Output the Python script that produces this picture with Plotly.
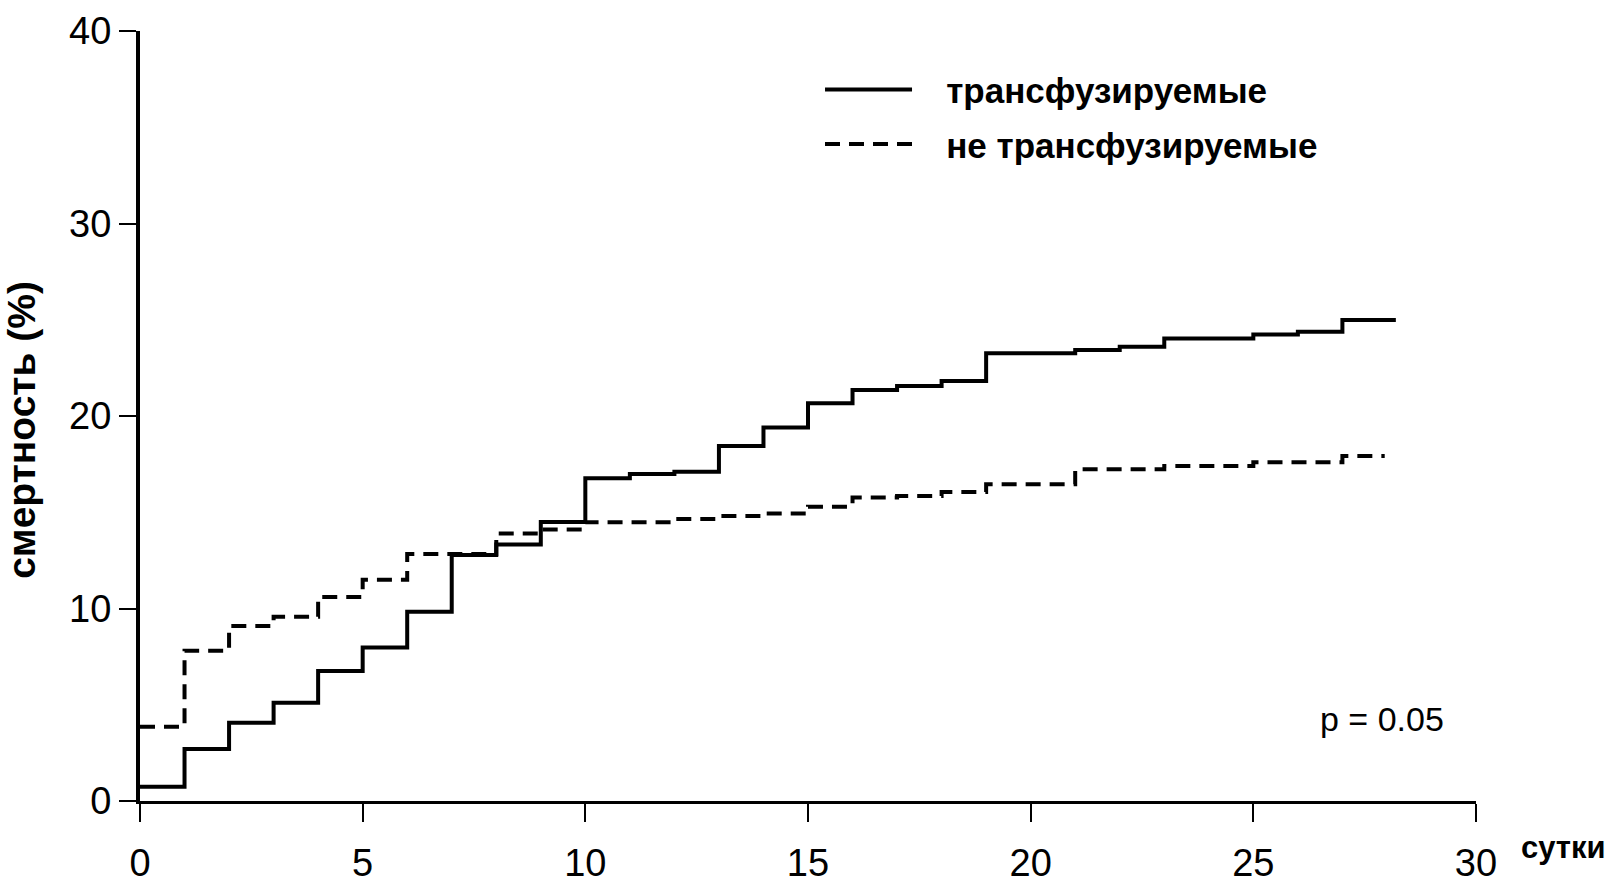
import plotly.graph_objects as go

# Kaplan-Meier style cumulative mortality (%) by day
days_transfused = [0, 1, 2, 3, 4, 5, 6, 7, 8, 9, 10, 11, 12, 13, 14, 15, 16, 17, 18, 19, 21, 22, 23, 25, 26, 27, 28.2]
mort_transfused = [0.74, 2.7, 4.07, 5.1, 6.75, 7.98, 9.83, 12.78, 13.33, 14.5, 16.76, 16.99, 17.1, 18.44, 19.4,
                   20.66, 21.35, 21.56, 21.82, 23.26, 23.43, 23.6, 24.03, 24.24, 24.38, 24.99, 24.99]

days_not_transfused = [0, 1, 2, 3, 4, 5, 6, 8, 9, 10, 12, 13, 14, 15, 16, 17, 18, 19, 21, 23, 25, 27, 27.95]
mort_not_transfused = [3.86, 7.8, 9.09, 9.57, 10.6, 11.5, 12.83, 13.9, 14.11, 14.48, 14.65, 14.8, 14.94, 15.29,
                       15.77, 15.85, 16.05, 16.45, 17.23, 17.4, 17.6, 17.92, 17.92]

name_transfused = "трансфузируемые"
name_not_transfused = "не трансфузируемые"
x_ticks = [0, 5, 10, 15, 20, 25, 30]
y_ticks = [0, 10, 20, 30, 40]
x_title = "сутки"
y_title = "смертность (%)"
p_text = "p = 0.05"

pad = "\u00a0\u00a0\u00a0"

fig = go.Figure()
fig.add_trace(go.Scatter(
    x=days_transfused, y=mort_transfused, mode="lines", name=pad + name_transfused,
    line=dict(color="black", width=4, shape="hv"), legendgroup="a"))
fig.add_trace(go.Scatter(
    x=days_not_transfused, y=mort_not_transfused, mode="lines", name=pad + name_not_transfused,
    line=dict(color="black", width=4, shape="hv", dash="15px,9px"), legendgroup="b"))

tick_font = dict(family="Liberation Sans", size=38, color="black")
fig.update_layout(
    width=1613, height=888,
    margin=dict(l=140, r=137, t=31, b=87, autoexpand=False),
    paper_bgcolor="white", plot_bgcolor="white",
    showlegend=True,
    legend=dict(
        x=0.509, y=0.962, xanchor="left", yanchor="top",
        font=dict(family="Liberation Sans", size=35, color="black", weight="bold"),
        bgcolor="rgba(0,0,0,0)", itemwidth=87, traceorder="grouped", tracegroupgap=6,
    ),
    xaxis=dict(
        range=[0, 30], tickvals=x_ticks, ticktext=[str(v) for v in x_ticks], automargin=False,
        showline=True, linecolor="black", linewidth=3, mirror=False,
        ticks="outside", ticklen=18, tickwidth=2, tickcolor="black",
        showgrid=False, zeroline=False, tickfont=tick_font, ticklabelstandoff=8,
    ),
    yaxis=dict(
        range=[0, 40], tickvals=y_ticks, ticktext=[str(v) for v in y_ticks], automargin=False,
        showline=True, linecolor="black", linewidth=4,
        ticks="outside", ticklen=17, tickwidth=2, tickcolor="black",
        showgrid=False, zeroline=False, tickfont=tick_font, ticklabelstandoff=0,
    ),
    annotations=[
        dict(text=y_title, textangle=-90, xref="paper", yref="paper", x=0, y=0.482,
             xanchor="center", yanchor="middle", xshift=-118, showarrow=False,
             font=dict(family="Liberation Sans", size=39, color="black", weight="bold")),
        dict(text=x_title, xref="paper", yref="paper", x=1, y=0, xanchor="left", yanchor="middle",
             xshift=43, yshift=-46, showarrow=False,
             font=dict(family="Liberation Sans", size=31, color="black", weight="bold")),
        dict(text=p_text, xref="x", yref="y", x=27.9, y=4.26, xanchor="center", yanchor="middle",
             showarrow=False, font=dict(family="Liberation Sans", size=34, color="black")),
    ],
)

# remove the browser's default 8px body margin so the 1613x888 figure fills the window exactly
fig.write_html("out.html", config={"displayModeBar": False},
               post_script="document.body.style.margin='0';document.body.style.overflow='hidden';")
